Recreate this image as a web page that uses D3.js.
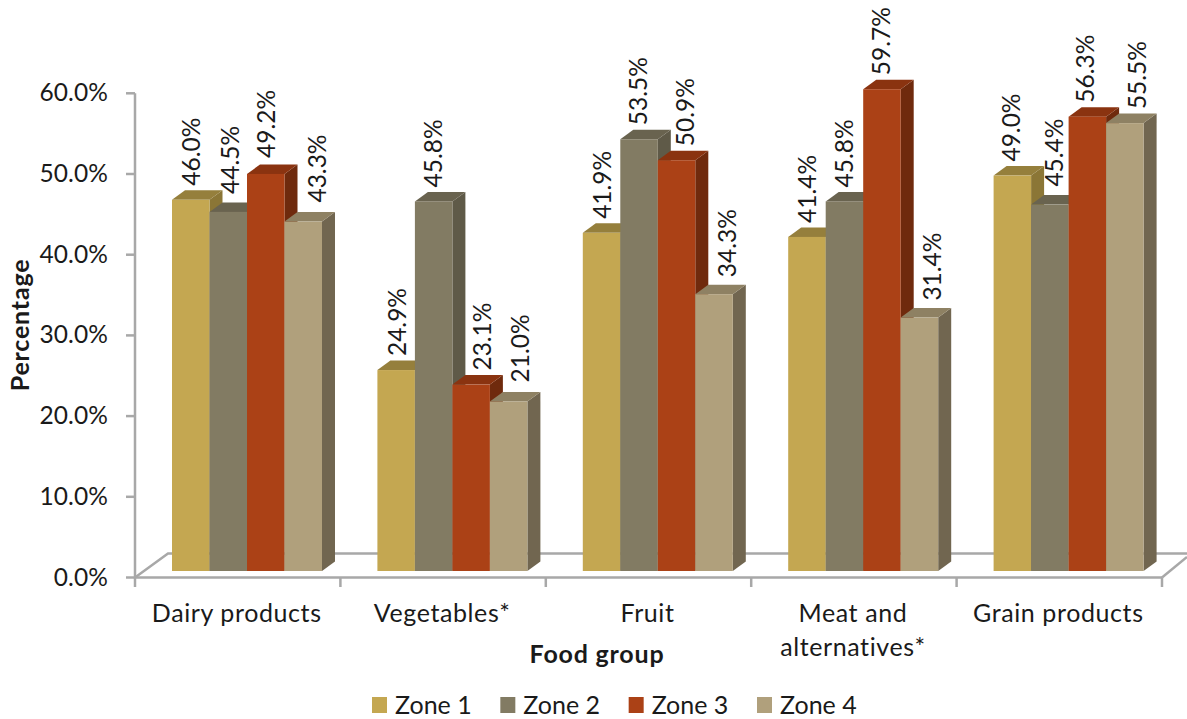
<!DOCTYPE html>
<html>
<head>
<meta charset="utf-8">
<script src="https://cdn.jsdelivr.net/npm/d3@7"></script>
<style>
html,body{margin:0;padding:0;background:#fff}
text{font-family:Lato,"Open Sans",sans-serif;fill:#1a1a1a}
</style>
</head>
<body>
<svg id="chart" width="1187" height="719"></svg>
<script>
const categories = ["Dairy products", "Vegetables*", "Fruit", "Meat and alternatives*", "Grain products"];
const seriesNames = ["Zone 1", "Zone 2", "Zone 3", "Zone 4"];
const zone1 = [46.0, 24.9, 41.9, 41.4, 49.0];
const zone2 = [44.5, 45.8, 53.5, 45.8, 45.4];
const zone3 = [49.2, 23.1, 50.9, 59.7, 56.3];
const zone4 = [43.3, 21.0, 34.3, 31.4, 55.5];
const tickValues = [0, 10, 20, 30, 40, 50, 60];

// Label shifts that keep each rotated value clear of the neighbouring bar
const labelShiftX = [
  [1, 2, 1, 1, 0],
  [3, 0, 0, 1, 5],
  [1, 12, 9, 0, -1],
  [15, 12, 14, 14, 13]
];
const labelLift = [
  [14, 14, 14, 14, 14],
  [18, 14, 14, 14, 18],
  [16, 14, 14, 14, 14],
  [19, 19, 17, 17, 14]
];

const palette = [
  {front: "#C4A751", top: "#957F3C", side: "#8B7636"},
  {front: "#827B63", top: "#69634F", side: "#5F5A48"},
  {front: "#AB4116", top: "#8A3310", side: "#6F2A0D"},
  {front: "#B0A07C", top: "#8E8163", side: "#716650"}
];

const values = [zone1, zone2, zone3, zone4];
const gridColor = "#A8A8A8";
const depthX = 13, depthY = 9.5;
const barFloorLift = 6.5;

const svg = d3.select("#chart");
const x = d3.scaleBand().domain(categories).range([135, 1162]);
const y = d3.scaleLinear().domain([0, 60]).range([577.5, 93.3]);
const inner = d3.scaleBand().domain(seriesNames).range([37, 187]);

// Floor and axes
const floor = svg.append("g").attr("fill", "none").attr("stroke", gridColor).attr("stroke-width", 2.5);
floor.append("path").attr("d", d3.line()([[135, y(0)], [168, 553.5], [1187, 553.5]]));
floor.append("path").attr("d", d3.line()([[1162, y(0)], [1187, 557]]));
floor.append("path").attr("d", d3.line()([[135, y(60)], [135, y(0)], [1162, y(0)]]));

floor.selectAll("line.ytick").data(tickValues).join("line")
  .attr("class", "ytick")
  .attr("x1", 126).attr("x2", 135)
  .attr("y1", d => y(d)).attr("y2", d => y(d));

const edges = categories.map(c => x(c)).concat([x.range()[1]]);
floor.selectAll("line.xtick").data(edges).join("line")
  .attr("class", "xtick")
  .attr("x1", d => d).attr("x2", d => d)
  .attr("y1", y(0)).attr("y2", 587);

svg.selectAll("text.ylab").data(tickValues).join("text")
  .attr("class", "ylab")
  .attr("x", 108).attr("y", d => y(d) + 8)
  .attr("text-anchor", "end")
  .attr("font-size", 24.5)
  .attr("letter-spacing", 0.1)
  .text(d => d3.format(".1f")(d) + "%");

// Extruded bars, painted left to right so nearer faces overlap correctly
const cells = [];
categories.forEach((c, ci) => {
  seriesNames.forEach((s, si) => {
    cells.push({c, ci, s, si, v: values[si][ci]});
  });
});
const poly = pts => pts.map(p => p.join(",")).join(" ");
const bars = svg.append("g").selectAll("g").data(cells).join("g");
const geom = d => {
  const x0 = x(d.c) + inner(d.s), x1 = x0 + inner.bandwidth();
  const y0 = y(d.v) - barFloorLift, y1 = y(0) - barFloorLift;
  return {x0, x1, y0, y1};
};
bars.append("polygon")
  .attr("fill", d => palette[d.si].side)
  .attr("points", d => {
    const g = geom(d);
    return poly([[g.x1, g.y0], [g.x1 + depthX, g.y0 - depthY], [g.x1 + depthX, g.y1 - depthY], [g.x1, g.y1]]);
  });
bars.append("polygon")
  .attr("fill", d => palette[d.si].top)
  .attr("points", d => {
    const g = geom(d);
    return poly([[g.x0, g.y0], [g.x0 + depthX, g.y0 - depthY], [g.x1 + depthX, g.y0 - depthY], [g.x1, g.y0]]);
  });
bars.append("rect")
  .attr("fill", d => palette[d.si].front)
  .attr("x", d => geom(d).x0)
  .attr("y", d => geom(d).y0)
  .attr("width", inner.bandwidth())
  .attr("height", d => geom(d).y1 - geom(d).y0);

// Rotated value labels
svg.append("g").selectAll("text").data(cells).join("text")
  .attr("font-size", 24.5)
  .attr("transform", d => {
    const g = geom(d);
    const cx = (g.x0 + g.x1) / 2 + labelShiftX[d.si][d.ci] + 8;
    return `translate(${cx},${g.y0 - labelLift[d.si][d.ci]}) rotate(-90)`;
  })
  .text(d => d3.format(".1f")(d.v) + "%");

// Category labels, wrapped by hand for the long name
const wrapped = {"Meat and alternatives*": ["Meat and", "alternatives*"]};
svg.append("g").selectAll("text").data(categories).join("text")
  .attr("text-anchor", "middle")
  .attr("font-size", 25)
  .attr("letter-spacing", 0.6)
  .attr("transform", d => `translate(${x(d) + x.bandwidth() / 2 - 1},622)`)
  .each(function(d) {
    d3.select(this).selectAll("tspan").data(wrapped[d] || [d]).join("tspan")
      .attr("x", 0).attr("dy", (t, i) => i ? 34 : 0).text(t => t);
  });

svg.append("text")
  .attr("x", 597).attr("y", 663)
  .attr("text-anchor", "middle")
  .attr("font-size", 25).attr("font-weight", 700)
  .attr("letter-spacing", 0.8)
  .text("Food group");

svg.append("text")
  .attr("transform", "translate(29,325) rotate(-90)")
  .attr("text-anchor", "middle")
  .attr("font-size", 25).attr("font-weight", 700)
  .attr("letter-spacing", 0.8)
  .text("Percentage");

// Legend
const legendX = d3.scalePoint().domain(seriesNames).range([372, 757]);
const legend = svg.append("g").selectAll("g").data(seriesNames).join("g")
  .attr("transform", d => `translate(${legendX(d)},697)`);
legend.append("rect")
  .attr("width", 15).attr("height", 16)
  .attr("fill", (d, i) => palette[i].front);
legend.append("text")
  .attr("x", 23).attr("y", 17)
  .attr("font-size", 25)
  .text(d => d);
</script>
</body>
</html>
